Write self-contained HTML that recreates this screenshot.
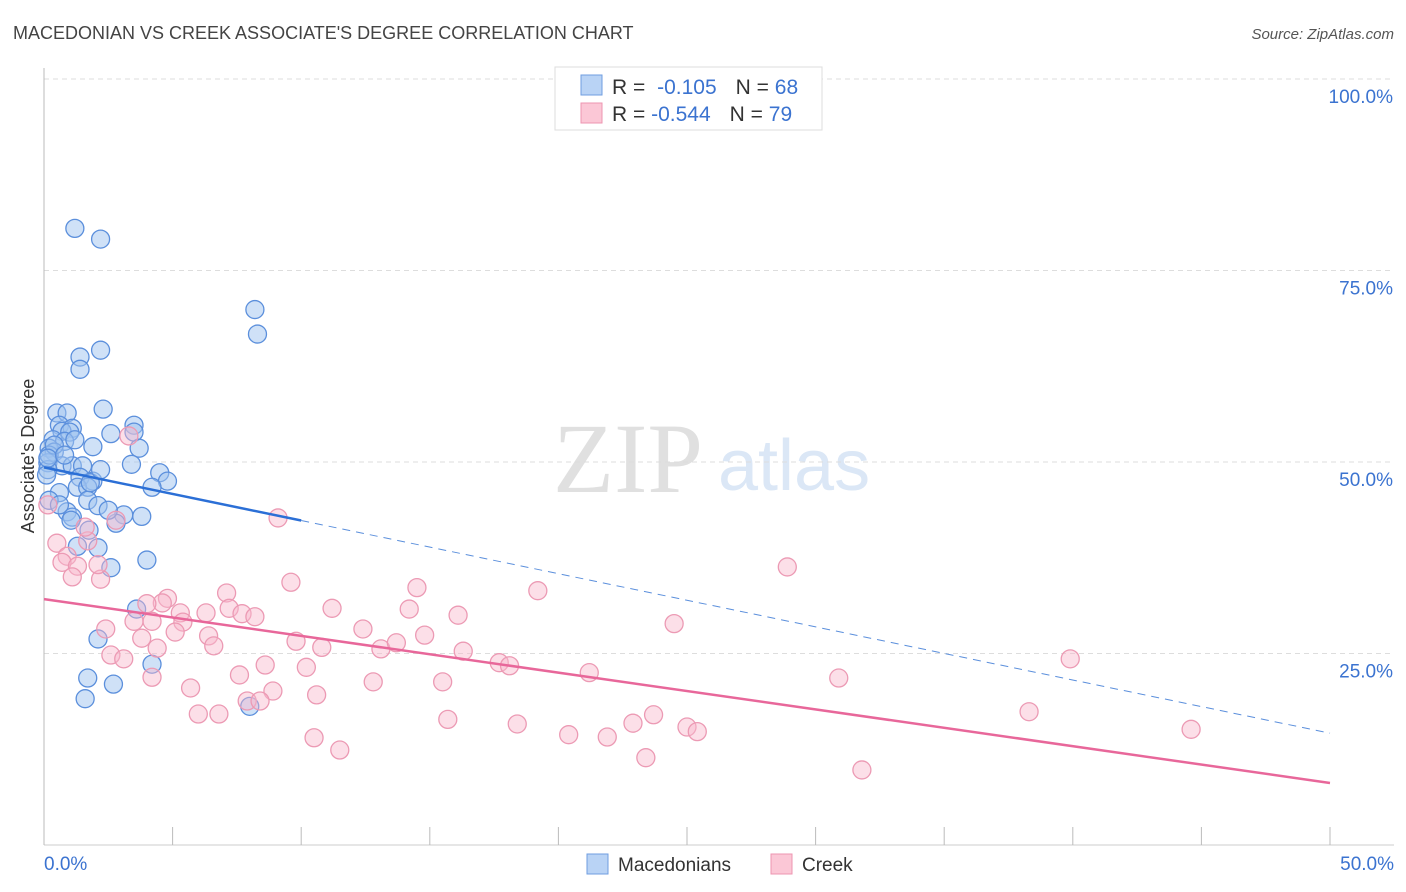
<!DOCTYPE html>
<html><head><meta charset="utf-8">
<style>
body{margin:0;background:#fff;font-family:"Liberation Sans",sans-serif;}
#wrap{position:relative;width:1406px;height:892px;overflow:hidden;}
svg{position:absolute;left:0;top:0;}
</style></head>
<body>
<div id="wrap">
<svg id="chart" width="1406" height="892">
<text x="13" y="39" font-size="18" fill="#444">MACEDONIAN VS CREEK ASSOCIATE'S DEGREE CORRELATION CHART</text>
<text x="1394" y="39" font-size="15" fill="#555" font-style="italic" text-anchor="end">Source: ZipAtlas.com</text>
<text x="0" y="0" transform="translate(34,456) rotate(-90)" font-size="18" fill="#333" text-anchor="middle">Associate's Degree</text>
<text x="553" y="492" font-size="100" fill="#e0e0e0" font-family="Liberation Serif">ZIP</text>
<text x="718" y="490" font-size="72" fill="#dbe7f6">atlas</text>
<g id="grid"></g>
<g id="marks"></g>
<g>
<rect x="555" y="67" width="267" height="63" fill="#fff" stroke="#ddd"/>
<rect x="581" y="75" width="21" height="20" fill="#b9d3f5" stroke="#6f9ee0"/>
<rect x="581" y="103" width="21" height="20" fill="#fbc7d6" stroke="#ee94b0"/>
<text x="612" y="94" font-size="21" fill="#333">R = <tspan fill="#3b73d0" dx="6">-0.105</tspan><tspan dx="19">N = </tspan><tspan fill="#3b73d0">68</tspan></text>
<text x="612" y="121" font-size="21" fill="#333">R = <tspan fill="#3b73d0">-0.544</tspan><tspan dx="19">N = </tspan><tspan fill="#3b73d0">79</tspan></text>
</g>
<g>
<rect x="587" y="854" width="21" height="20" fill="#b9d3f5" stroke="#6f9ee0"/>
<text x="618" y="871" font-size="19" fill="#333">Macedonians</text>
<rect x="771" y="854" width="21" height="20" fill="#fbc7d6" stroke="#ee94b0"/>
<text x="802" y="871" font-size="19" fill="#333">Creek</text>
</g>
</svg>
</div>
<script>
const yTicks=[25,50,75,100];
const yTickLabels=["25.0%","50.0%","75.0%","100.0%"];
const xTickVals=[0,5,10,15,20,25,30,35,40,45,50];
const xEndLabels=["0.0%","50.0%"];
const blueX=[1.2,2.2,8.2,8.3,2.2,1.4,1.4,2.3,0.5,0.9,0.6,1.1,3.5,0.7,1.0,0.35,2.6,3.5,0.8,1.9,3.7,0.2,0.4,3.4,4.5,0.15,0.7,1.1,1.5,4.8,4.2,0.15,1.4,1.9,1.3,1.7,0.6,1.7,2.1,0.9,1.1,1.05,3.8,3.1,2.8,1.75,1.3,2.1,4.0,2.6,3.6,2.1,4.2,1.7,2.7,1.6,8.0,0.1,0.2,0.4,0.15,0.8,1.8,2.5,0.2,0.6,1.2,2.2];
const blueY=[80.5,79.1,69.9,66.7,64.6,63.7,62.1,56.9,56.4,56.4,54.8,54.4,54.8,54.0,53.9,52.9,53.7,53.9,52.7,52.0,51.8,51.8,51.3,49.7,48.6,49.9,49.5,49.5,49.5,47.5,46.7,49.0,48.0,47.5,46.7,46.7,46.0,45.0,44.3,43.5,42.8,42.4,42.9,43.1,42.0,41.1,39.0,38.8,37.2,36.2,30.8,26.9,23.6,21.8,21.0,19.1,18.1,48.3,50.9,52.2,50.5,50.9,47.3,43.7,45.0,44.4,52.9,49.0];
const pinkX=[3.3,9.1,0.15,0.5,0.9,1.7,1.6,2.8,0.7,1.3,1.1,2.2,2.1,9.6,14.5,19.2,28.9,4.8,4.6,4.0,7.1,3.5,2.4,4.2,5.3,6.3,7.2,7.7,8.2,11.2,14.2,16.1,5.4,5.1,6.4,6.6,3.8,2.6,3.1,4.4,9.8,10.8,12.4,13.1,13.7,14.8,16.3,17.7,18.1,21.2,24.5,4.2,7.6,8.6,10.2,5.7,8.9,10.6,12.8,15.5,30.9,39.9,7.9,8.4,6.0,6.8,15.7,18.4,20.4,21.9,22.9,23.7,25.0,25.4,10.5,11.5,23.4,31.8,38.3,44.6];
const pinkY=[53.4,42.7,44.4,39.4,37.7,39.7,41.5,42.4,36.9,36.4,35.0,34.7,36.6,34.3,33.6,33.2,36.3,32.2,31.6,31.5,32.9,29.2,28.2,29.2,30.3,30.3,30.9,30.2,29.8,30.9,30.8,30.0,29.1,27.8,27.3,26.0,27.0,24.8,24.3,25.7,26.6,25.8,28.2,25.6,26.4,27.4,25.3,23.8,23.4,22.5,28.9,21.9,22.2,23.5,23.2,20.5,20.1,19.6,21.3,21.3,21.8,24.3,18.8,18.8,17.1,17.1,16.4,15.8,14.4,14.1,15.9,17.0,15.4,14.8,14.0,12.4,11.4,9.8,17.4,15.1];
const blueTrend=[49.3,14.6]; // y at x=0 and x=50
const blueSolidEnd=10;
const pinkTrend=[32.1,8.1];

const X=v=>44+v/50*1286;
const Y=v=>845-v/100*766;
const NS="http://www.w3.org/2000/svg";
function mk(tag,attrs,parent){const e=document.createElementNS(NS,tag);for(const k in attrs)e.setAttribute(k,attrs[k]);parent.appendChild(e);return e;}
const grid=document.getElementById('grid');
const marks=document.getElementById('marks');
yTicks.forEach((t,i)=>{
  const l=mk('line',{x1:44,x2:1394,y1:Y(t),y2:Y(t),stroke:'#ddd','stroke-dasharray':'5,4'},grid);
  
  
  const tx=mk('text',{x:1393,y:Y(t)+24,'font-size':19,fill:'#3b73d0','text-anchor':'end'},grid);
  tx.textContent=yTickLabels[i];
  
  
});
const ax=mk('line',{x1:44,x2:1394,y1:845,y2:845,stroke:'#ccc'},grid);


const ay=mk('line',{x1:44,x2:44,y1:68,y2:845,stroke:'#bbb'},grid);


xTickVals.forEach(t=>{
  const l=mk('line',{x1:X(t),x2:X(t),y1:827,y2:845,stroke:'#bbb'},grid);
  
  
});
[[0,'start',44],[50,'end',1394]].forEach((d,i)=>{
  const tx=mk('text',{x:d[2],y:870,'font-size':19,fill:'#3b73d0','text-anchor':d[1]},grid);
  tx.textContent=xEndLabels[i];
  
  
});
blueX.forEach((x,i)=>{
  const c=mk('circle',{cx:X(x),cy:Y(blueY[i]),r:9,fill:'rgba(160,195,240,0.5)',stroke:'#5b8fdc','stroke-width':1.3},marks);
  
  
});
pinkX.forEach((x,i)=>{
  const c=mk('circle',{cx:X(x),cy:Y(pinkY[i]),r:9,fill:'rgba(248,185,205,0.45)',stroke:'#ec9ab4','stroke-width':1.3},marks);
  
  
});
const by=x=>blueTrend[0]+(blueTrend[1]-blueTrend[0])*x/50;
const bl=mk('line',{x1:X(0),y1:Y(by(0)),x2:X(blueSolidEnd),y2:Y(by(blueSolidEnd)),stroke:'#2b6fd6','stroke-width':2.5},marks);


const bd=mk('line',{x1:X(blueSolidEnd),y1:Y(by(blueSolidEnd)),x2:X(50),y2:Y(by(50)),stroke:'#5b8fdc','stroke-width':1,'stroke-dasharray':'8,6'},marks);


const pl=mk('line',{x1:X(0),y1:Y(pinkTrend[0]),x2:X(50),y2:Y(pinkTrend[1]),stroke:'#e8679a','stroke-width':2.5},marks);


</script>
</body></html>
